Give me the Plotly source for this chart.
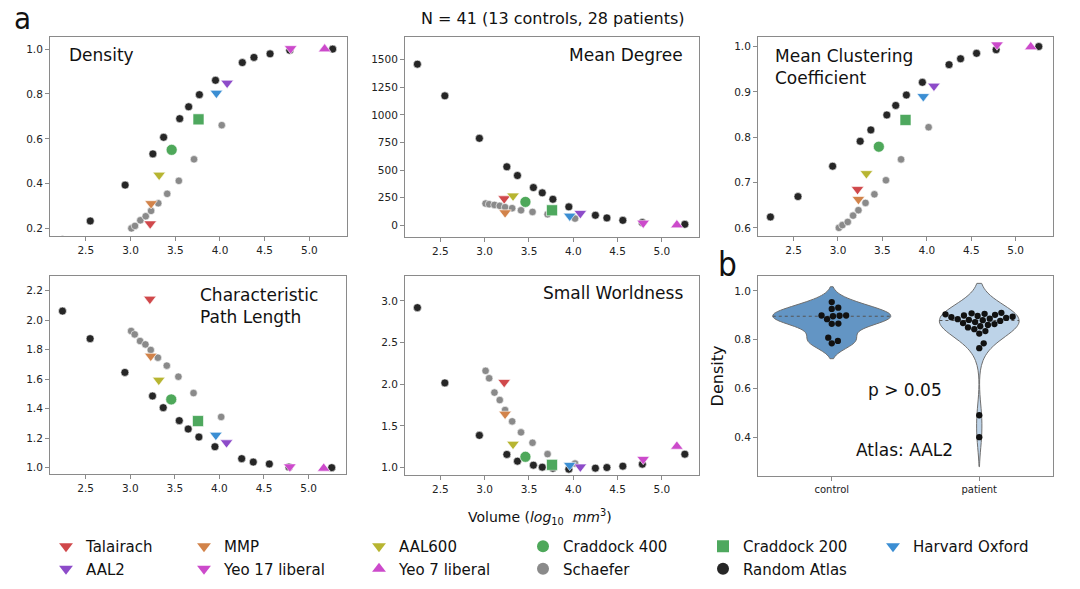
import numpy as np
import plotly.graph_objects as go

# ---------------- data ----------------
volume_random = [2.24, 2.55, 2.94, 3.25, 3.37, 3.55, 3.65, 3.77, 3.95, 4.25, 4.38, 4.56, 4.78, 5.26]
density_random = [0.15, 0.234, 0.394, 0.533, 0.607, 0.690, 0.743, 0.797, 0.861, 0.940, 0.963, 0.979, 0.995, 1.0]
degree_random = [1460, 1173, 788, 530, 451, 342, 294, 236, 167, 91, 67, 45, 25, 9]
clustering_random = [0.624, 0.669, 0.736, 0.791, 0.816, 0.849, 0.870, 0.893, 0.921, 0.960, 0.973, 0.985, 0.993, 1.0]
pathlength_random = [2.062, 1.875, 1.646, 1.486, 1.407, 1.319, 1.262, 1.208, 1.142, 1.061, 1.038, 1.025, 1.005, 1.0]
smallworld_random = [2.92, 2.016, 1.386, 1.157, 1.076, 1.028, 1.004, 0.992, 0.98, 0.992, 1.0, 1.016, 1.04, 1.16]

volume_schaefer = [3.01, 3.05, 3.11, 3.17, 3.23, 3.31, 3.41, 3.54, 3.71, 4.02]
density_schaefer = [0.201, 0.212, 0.237, 0.255, 0.279, 0.313, 0.355, 0.413, 0.509, 0.661]
degree_schaefer = [197, 191, 185, 176, 164, 155, 136, 121, 100, 61]
clustering_schaefer = [0.600, 0.606, 0.613, 0.627, 0.639, 0.655, 0.674, 0.705, 0.751, 0.822]
pathlength_schaefer = [1.927, 1.904, 1.859, 1.836, 1.798, 1.746, 1.692, 1.617, 1.506, 1.344]
smallworld_schaefer = [2.161, 2.072, 1.90, 1.81, 1.69, 1.554, 1.422, 1.297, 1.161, 1.048]

atlas_names = ["Talairach", "MMP", "AAL600", "Craddock 400", "Craddock 200",
               "Harvard Oxford", "AAL2", "Yeo 17 liberal", "Yeo 7 liberal"]
atlas_volume = [3.22, 3.23, 3.32, 3.46, 3.76, 3.96, 4.08, 4.79, 5.17]
atlas_density = [0.222, 0.312, 0.439, 0.551, 0.687, 0.804, 0.849, 1.003, 1.0]
atlas_degree = [242, 115, 267, 212, 136, 85, 109, 21, 2]
atlas_clustering = [0.685, 0.663, 0.72, 0.779, 0.838, 0.89, 0.913, 1.004, 0.999]
atlas_pathlength = [2.144, 1.757, 1.594, 1.463, 1.316, 1.221, 1.17, 1.007, 0.995]
atlas_smallworld = [2.024, 1.643, 1.281, 1.129, 1.032, 1.028, 1.008, 1.10, 1.253]

control_density = [0.954, 0.931, 0.926, 0.899, 0.899, 0.898, 0.896, 0.884, 0.866, 0.865, 0.808, 0.795, 0.785]
patient_density = [0.910, 0.908, 0.906, 0.904, 0.902, 0.899, 0.897, 0.894, 0.892, 0.889,
                   0.886, 0.884, 0.881, 0.880,
                   0.877, 0.872, 0.868, 0.864, 0.860, 0.855, 0.850, 0.843, 0.835, 0.825,
                   0.785, 0.765,
                   0.49, 0.40]
group_labels = ["control", "patient"]

panel_titles = ["Density", "Mean Degree", "Mean Clustering<br>Coefficient",
                "Characteristic<br>Path Length", "Small Worldness"]

# ---------------- styles ----------------
atlas_colors = ["#d0484b", "#d2834a", "#b7b531", "#4ea85a", "#4ea85e",
                "#3b8ed3", "#8d4bc9", "#cc4acb", "#cc4acb"]
atlas_symbols = ["triangle-down", "triangle-down", "triangle-down", "circle", "square",
                 "triangle-down", "triangle-down", "triangle-down", "triangle-up"]
atlas_sizes = [11, 11, 11, 11, 11, 11, 11, 11, 11]
RANDOM_COLOR = "#262626"
SCHAEFER_COLOR = "#8a8a8a"

W, H = 1080, 589
def px(x0, x1):
    return [x0 / W, x1 / W]
def py(top, bottom):
    return [1 - bottom / H, 1 - top / H]

domains = [
    (px(50, 347), py(37, 236)),
    (px(405, 699), py(37, 237)),
    (px(758, 1053), py(37, 236)),
    (px(50, 346), py(276, 474)),
    (px(405, 699), py(276, 475)),
    (px(758, 1053), py(276, 476)),
]
y_ranges = [[0.167, 1.054], [-106, 1706], [0.582, 1.021], [0.957, 2.30], [0.91, 3.30]]
y_ticks = [[0.2, 0.4, 0.6, 0.8, 1.0], [0, 250, 500, 750, 1000, 1250, 1500],
           [0.6, 0.7, 0.8, 0.9, 1.0], [1.0, 1.2, 1.4, 1.6, 1.8, 2.0, 2.2],
           [1.0, 1.5, 2.0, 2.5, 3.0]]
y_formats = [".1f", "d", ".1f", ".1f", ".1f"]

random_metrics = [density_random, degree_random, clustering_random, pathlength_random, smallworld_random]
schaefer_metrics = [density_schaefer, degree_schaefer, clustering_schaefer, pathlength_schaefer, smallworld_schaefer]
atlas_metrics = [atlas_density, atlas_degree, atlas_clustering, atlas_pathlength, atlas_smallworld]

TICKFONT = dict(family="DejaVu Sans", size=10.5, color="#222")
AXCOL = "#8a8a8a"
SANS = "DejaVu Sans, sans-serif"
NARROW = "DejaVu Sans Condensed, Liberation Sans Narrow, Arial Narrow, sans-serif"

fig = go.Figure()

def axname(i):
    return ("x" if i == 0 else f"x{i+1}"), ("y" if i == 0 else f"y{i+1}")

for p in range(5):
    xa, ya = axname(p)
    fig.add_trace(go.Scatter(x=volume_random, y=random_metrics[p], mode="markers",
                             marker=dict(color=RANDOM_COLOR, size=8, line=dict(color="white", width=0.6)),
                             xaxis=xa, yaxis=ya, showlegend=False))
    fig.add_trace(go.Scatter(x=volume_schaefer, y=schaefer_metrics[p], mode="markers",
                             marker=dict(color=SCHAEFER_COLOR, size=7.5, line=dict(color="white", width=0.6)),
                             xaxis=xa, yaxis=ya, showlegend=False))
    for k in range(len(atlas_names)):
        fig.add_trace(go.Scatter(x=[atlas_volume[k]], y=[atlas_metrics[p][k]], mode="markers",
                                 marker=dict(color=atlas_colors[k], size=atlas_sizes[k], symbol=atlas_symbols[k],
                                             line=dict(color="white", width=0.6)),
                                 xaxis=xa, yaxis=ya, showlegend=False))

# ---------------- legend (dummy legend-only traces, 6 columns) ----------------
legend_cols = [
    [("Talairach", 0), ("AAL2", 6)],
    [("MMP", 1), ("Yeo 17 liberal", 7)],
    [("AAL600", 2), ("Yeo 7 liberal", 8)],
    [("Craddock 400", 3), ("Schaefer", "schaefer")],
    [("Craddock 200", 4), ("Random Atlas", "random")],
    [("Harvard Oxford", 5)],
]
legend_marker_x = [66, 204, 379, 543, 723, 893]
for c, items in enumerate(legend_cols):
    lname = "legend" if c == 0 else f"legend{c+1}"
    for name, key in items:
        if key == "schaefer":
            col, sym = SCHAEFER_COLOR, "circle"
        elif key == "random":
            col, sym = RANDOM_COLOR, "circle"
        else:
            col, sym = atlas_colors[key], atlas_symbols[key]
        fig.add_trace(go.Scatter(x=[None], y=[None], mode="markers", name=name,
                                 marker=dict(color=col, symbol=sym, size=8),
                                 xaxis="x", yaxis="y", showlegend=True, legend=lname))

# ---------------- violin panel ----------------
xs6, ys6 = "x6", "y6"
violin_fill = ["#6395c4", "#bdd3e8"]
violin_width = [0.80, 0.54]
groups = [control_density, patient_density]
PX_PER_X = 295 / 2.0
PX_PER_Y = 200 / (1.061 - 0.241)

def swarm_offsets(values, diam):
    order = np.argsort(values)
    placed = []
    offs = np.zeros(len(values))
    for idx in order:
        yv = values[idx] * PX_PER_Y
        cands = [0.0]
        for (pxx, pyy) in placed:
            dy = yv - pyy
            if abs(dy) < diam:
                dx = np.sqrt(diam ** 2 - dy ** 2)
                cands += [pxx + dx, pxx - dx]
        cands = sorted(cands, key=abs)
        best = cands[-1]
        for cnd in cands:
            if all((cnd - a) ** 2 + (yv - b) ** 2 >= diam ** 2 - 1e-6 for a, b in placed):
                best = cnd
                break
        placed.append((best, yv))
        offs[idx] = best
    return offs / PX_PER_X

for g, vals in enumerate(groups):
    vals = np.array(vals)
    bw = np.std(vals, ddof=1) * len(vals) ** (-0.2)
    fig.add_trace(go.Violin(x=[g] * len(vals), y=vals, xaxis=xs6, yaxis=ys6, width=violin_width[g],
                            scalemode="width", bandwidth=bw, spanmode="soft", points=False,
                            fillcolor=violin_fill[g], opacity=1,
                            line=dict(color="#6f6f6f", width=1), showlegend=False,
                            box=dict(visible=False), meanline=dict(visible=False)))
    # median line across the violin
    grid = np.linspace(vals.min() - 2 * bw, vals.max() + 2 * bw, 400)
    kde = np.exp(-0.5 * ((grid[:, None] - vals[None, :]) / bw) ** 2).sum(axis=1)
    med = np.median(vals)
    kmed = np.exp(-0.5 * ((med - vals) / bw) ** 2).sum()
    half = violin_width[g] / 2 * kmed / kde.max()
    fig.add_trace(go.Scatter(x=[g - half, g + half], y=[med, med], mode="lines",
                             line=dict(color="#555", width=1, dash="dot"),
                             xaxis=xs6, yaxis=ys6, showlegend=False))
    offs = swarm_offsets(vals, 6.6)
    fig.add_trace(go.Scatter(x=g + offs, y=vals, mode="markers",
                             marker=dict(color="#111111", size=6.3),
                             xaxis=xs6, yaxis=ys6, showlegend=False))

# ---------------- axes ----------------
axis_common = dict(showline=True, linecolor=AXCOL, linewidth=1, mirror=True, ticks="outside",
                   ticklen=4, tickcolor=AXCOL, showgrid=False, zeroline=False, tickfont=TICKFONT)
layout = {}
for p in range(6):
    xd, yd = domains[p]
    xk = "xaxis" if p == 0 else f"xaxis{p+1}"
    yk = "yaxis" if p == 0 else f"yaxis{p+1}"
    xa, ya = axname(p)
    if p < 5:
        layout[xk] = dict(domain=xd, anchor=ya, range=[2.10, 5.42],
                          tickvals=[2.5, 3.0, 3.5, 4.0, 4.5, 5.0], tickformat=".1f", **axis_common)
        layout[yk] = dict(domain=yd, anchor=xa, range=y_ranges[p], tickvals=y_ticks[p],
                          tickformat=y_formats[p], **axis_common)
    else:
        xc = dict(axis_common)
        xc["tickfont"] = dict(family="DejaVu Sans", size=10, color="#222")
        layout[xk] = dict(domain=xd, anchor=ya, range=[-0.5, 1.5], tickvals=[0, 1],
                          ticktext=group_labels, **xc)
        layout[yk] = dict(domain=yd, anchor=xa, range=[0.241, 1.061], tickvals=[0.4, 0.6, 0.8, 1.0],
                          tickformat=".1f",
                          title=dict(text="Density", font=dict(family="DejaVu Sans", size=16, color="#111"),
                                     standoff=6), **axis_common)

legends = {}
for c in range(6):
    lname = "legend" if c == 0 else f"legend{c+1}"
    legends[lname] = dict(x=(legend_marker_x[c] - 20) / W, xanchor="left", y=1 - 530 / H, yanchor="top",
                          orientation="v", bgcolor="rgba(0,0,0,0)", borderwidth=0, tracegroupgap=0,
                          font=dict(family=SANS, size=15, color="#111"), itemsizing="constant")

TITLEFONT = dict(family="DejaVu Sans", size=17, color="#111")
annotations = [
    dict(text=panel_titles[0], x=67 / W, y=1 - 55 / H, xanchor="left", yanchor="middle", font=TITLEFONT),
    dict(text=panel_titles[1], x=685 / W, y=1 - 55 / H, xanchor="right", yanchor="middle", font=TITLEFONT),
    dict(text=panel_titles[2], x=773 / W, y=1 - 44 / H, xanchor="left", yanchor="top", align="left", font=TITLEFONT),
    dict(text=panel_titles[3], x=198 / W, y=1 - 283 / H, xanchor="left", yanchor="top", align="left", font=TITLEFONT),
    dict(text=panel_titles[4], x=685 / W, y=1 - 293 / H, xanchor="right", yanchor="middle", font=TITLEFONT),
    dict(text="N = 41 (13 controls, 28 patients)", x=553 / W, y=1 - 19 / H, xanchor="center", yanchor="middle",
         font=dict(family=SANS, size=16, color="#111")),
    dict(text="Volume (<i>log</i><sub>10</sub>  <i>mm</i><sup>3</sup>)", x=540 / W, y=1 - 517 / H,
         xanchor="center", yanchor="middle", font=dict(family=SANS, size=14, color="#111")),
    dict(text="a", x=12 / W, y=1 - 18 / H, xanchor="left", yanchor="middle",
         font=dict(family=NARROW, size=31, color="#111")),
    dict(text="b", x=716 / W, y=1 - 264 / H, xanchor="left", yanchor="middle",
         font=dict(family=NARROW, size=33, color="#111")),
    dict(text="p > 0.05", x=905 / W, y=1 - 390 / H, xanchor="center", yanchor="middle",
         font=dict(family="DejaVu Sans", size=17, color="#111")),
    dict(text="Atlas: AAL2", x=905 / W, y=1 - 450 / H, xanchor="center", yanchor="middle",
         font=dict(family="DejaVu Sans", size=17, color="#111")),
]
for a in annotations:
    a.update(xref="paper", yref="paper", showarrow=False)

fig.update_layout(width=W, height=H, margin=dict(l=0, r=0, t=0, b=0),
                  paper_bgcolor="white", plot_bgcolor="white",
                  violinmode="overlay", annotations=annotations, **layout, **legends)

fig.write_html("out.html", config={"displayModeBar": False},
               post_script="document.body.style.margin='0';document.body.style.padding='0';")
